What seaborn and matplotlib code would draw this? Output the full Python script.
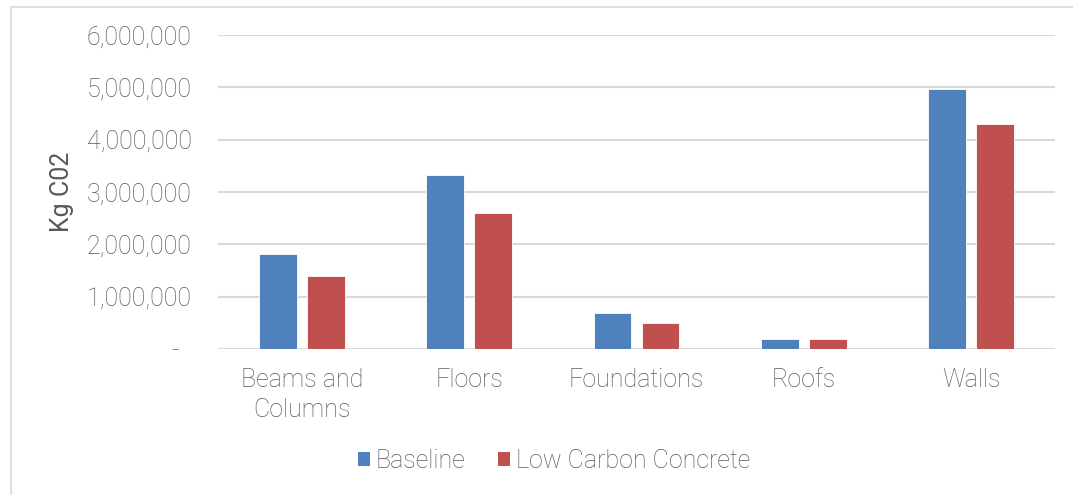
import matplotlib
matplotlib.use("Agg")
import matplotlib.pyplot as plt
import seaborn as sns
import pandas as pd
from matplotlib.ticker import FuncFormatter, MultipleLocator
from matplotlib.lines import Line2D
from matplotlib.patches import Patch

categories = ["Beams and\nColumns", "Floors", "Foundations", "Roofs", "Walls"]
series_names = ["Baseline", "Low Carbon Concrete"]
baseline = [1820000, 3320000, 680000, 190000, 4970000]
low_carbon = [1400000, 2590000, 490000, 190000, 4290000]
colors = ["#4F81BD", "#C0504D"]

df = pd.DataFrame({
    "Category": categories * 2,
    "Series": [series_names[0]] * len(categories) + [series_names[1]] * len(categories),
    "Value": baseline + low_carbon,
})

sns.set_theme(style="white")
plt.rcParams["font.family"] = ["Roboto", "DejaVu Sans"]
plt.rcParams["font.weight"] = "light"

FS = 18
TXT = "#595959"
W, H = 1073, 495
fig = plt.figure(figsize=(W / 100, H / 100), dpi=100)
ax = fig.add_axes([218 / W, 1 - 349 / H, (1055 - 218) / W, (349 - 35) / H])

sns.barplot(data=df, x="Category", y="Value", hue="Series", order=categories,
            hue_order=series_names, palette=colors, width=0.574, gap=0.21,
            ax=ax, legend=False, edgecolor="white", linewidth=0.6, saturation=1)

ax.set_ylim(0, 6000000)
ax.set_xlim(-0.5, len(categories) - 0.5)
ax.yaxis.set_major_locator(MultipleLocator(1000000))
ax.yaxis.set_major_formatter(FuncFormatter(lambda v, p: "-  " if v == 0 else f"{int(v):,}"))
ax.grid(axis="y", color="#D9D9D9", linewidth=1.5)
ax.set_axisbelow(True)
for s in ax.spines.values():
    s.set_visible(False)
ax.tick_params(axis="y", length=0, pad=19, labelsize=FS, labelcolor=TXT)
ax.tick_params(axis="x", length=0, pad=14, labelsize=FS, labelcolor=TXT)
for t in ax.get_xticklabels():
    t.set_linespacing(1.3)
ax.set_xlabel("")
ax.set_ylabel("Kg C02", fontsize=FS, color=TXT, labelpad=9)

handles = [Patch(facecolor=c, edgecolor="none", label=n) for c, n in zip(colors, series_names)]
leg = fig.legend(handles=handles, loc="center", bbox_to_anchor=(554 / W, 1 - 461 / H), ncol=2,
                 frameon=False, fontsize=FS, handlelength=0.48, handleheight=0.48,
                 handletextpad=0.25, columnspacing=1.3)
for t in leg.get_texts():
    t.set_color(TXT)

fig.add_artist(Line2D([10.5 / W, 10.5 / W], [0, 1 - 7 / H], color="#D9D9D9", linewidth=1.2))
fig.add_artist(Line2D([10.5 / W, 1], [1 - 7 / H, 1 - 7 / H], color="#D9D9D9", linewidth=1.2))

fig.savefig("out.png", dpi=100)
